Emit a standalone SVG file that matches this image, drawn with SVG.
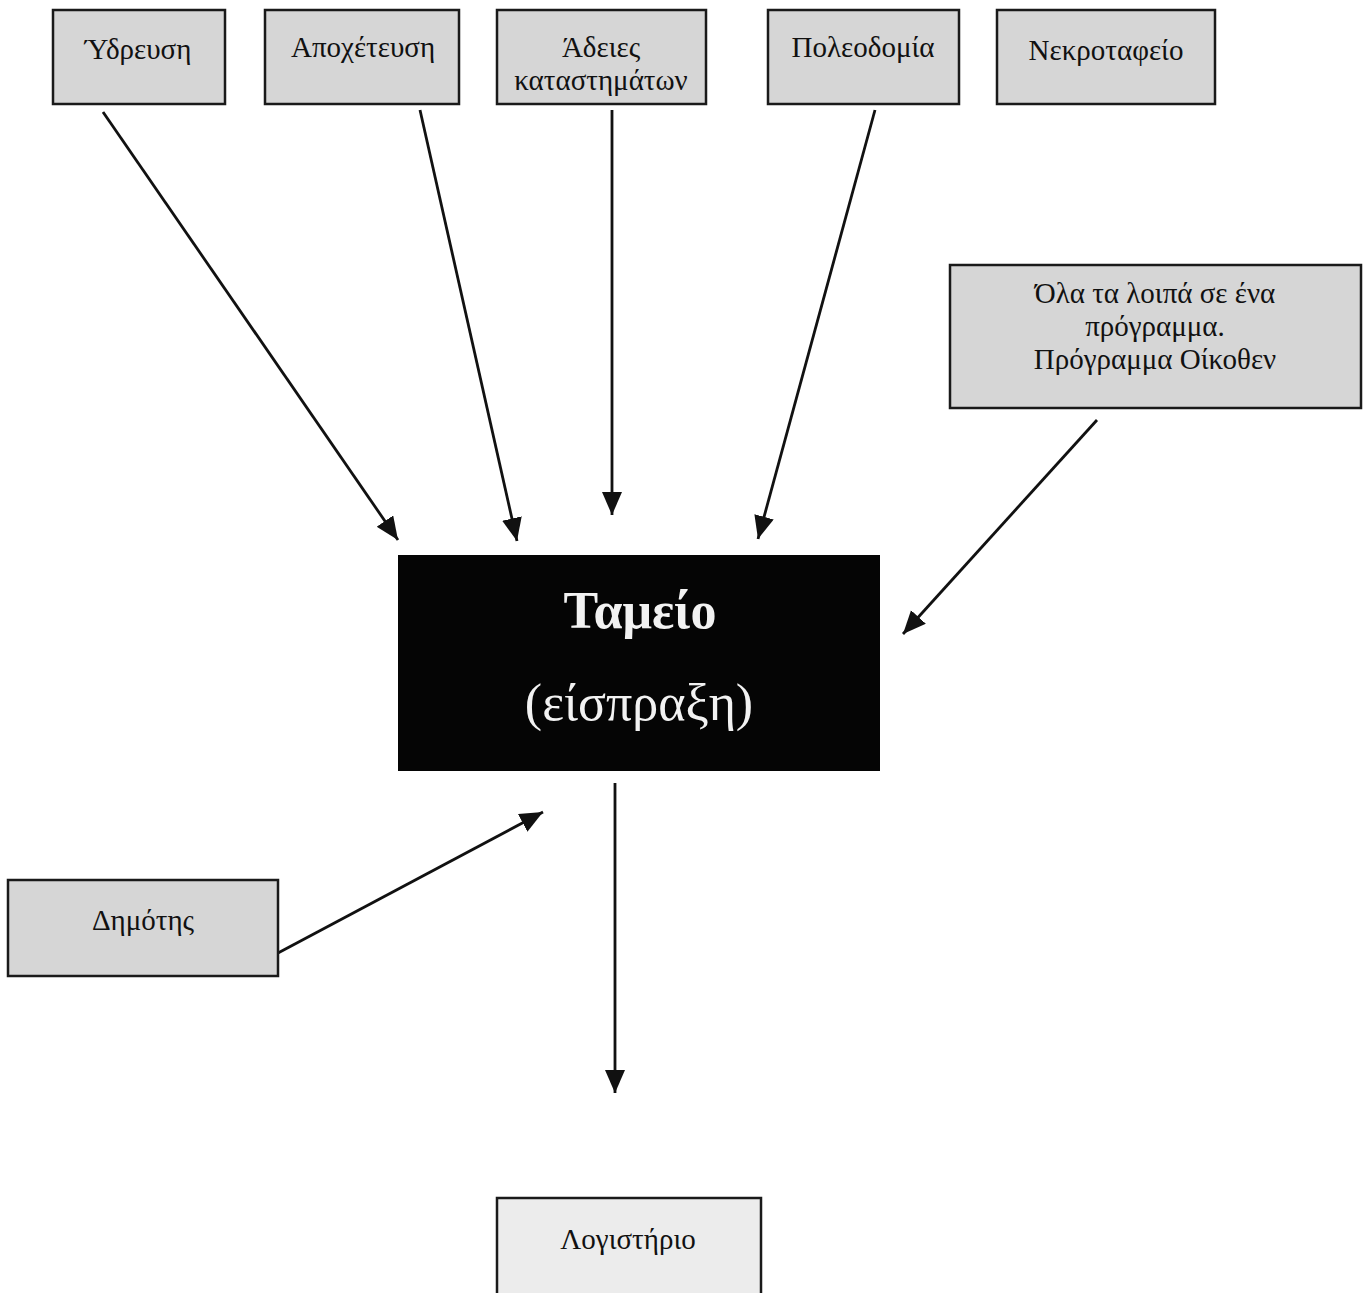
<svg xmlns="http://www.w3.org/2000/svg" width="1368" height="1293" viewBox="0 0 1368 1293">
<style>
.box{fill:#d6d6d6;stroke:#1a1a1a;stroke-width:2.5}
.lbl{font-family:"Liberation Serif","Times New Roman",serif;font-size:29px;fill:#111;text-anchor:middle}
.conn{stroke:#111;stroke-width:2.8;fill:none;marker-end:url(#ah)}
.big{font-family:"Liberation Serif","Times New Roman",serif;fill:#f2f2f2;text-anchor:middle}
</style>
<defs>
<marker id="ah" markerUnits="userSpaceOnUse" markerWidth="24" markerHeight="22" refX="23" refY="10" orient="auto">
<path d="M0,0 L23,10 L0,20 z" fill="#111"/>
</marker>
</defs>
<rect width="1368" height="1293" fill="#ffffff"/>
<g id="connectors">
<line class="conn" x1="103" y1="112" x2="398" y2="540"/>
<line class="conn" x1="420" y1="110" x2="517" y2="541"/>
<line class="conn" x1="612" y1="110" x2="612" y2="515"/>
<line class="conn" x1="875" y1="110" x2="758" y2="539"/>
<line class="conn" x1="1097" y1="420" x2="903" y2="634"/>
<line class="conn" x1="278" y1="953" x2="543" y2="812"/>
<line class="conn" x1="615" y1="783" x2="615" y2="1093"/>
</g>
<g id="ydreusi">
<rect class="box" x="53" y="10" width="172" height="94"/>
<text class="lbl" x="138" y="59">Ύδρευση</text>
</g>
<g id="apoxeteusi">
<rect class="box" x="265" y="10" width="194" height="94"/>
<text class="lbl" x="363" y="57">Αποχέτευση</text>
</g>
<g id="adeies">
<rect class="box" x="497" y="10" width="209" height="94"/>
<text class="lbl" x="601" y="57">Άδειες</text>
<text class="lbl" x="601" y="90">καταστημάτων</text>
</g>
<g id="poleodomia">
<rect class="box" x="768" y="10" width="191" height="94"/>
<text class="lbl" x="863" y="57">Πολεοδομία</text>
</g>
<g id="nekrotafeio">
<rect class="box" x="997" y="10" width="218" height="94"/>
<text class="lbl" x="1106" y="60">Νεκροταφείο</text>
</g>
<g id="loipa">
<rect class="box" x="950" y="265" width="411" height="143"/>
<text class="lbl" x="1155" y="303">Όλα τα λοιπά σε ένα</text>
<text class="lbl" x="1155" y="336">πρόγραμμα.</text>
<text class="lbl" x="1155" y="369">Πρόγραμμα Οίκοθεν</text>
</g>
<g id="tameio">
<rect x="398" y="555" width="482" height="216" fill="#050505"/>
<text class="big" x="640" y="628" font-size="52" font-weight="bold">Ταμείο</text>
<text class="big" x="639" y="720" font-size="52">(είσπραξη)</text>
</g>
<g id="dimotis">
<rect class="box" x="8" y="880" width="270" height="96"/>
<text class="lbl" x="143" y="930">Δημότης</text>
</g>
<g id="logistirio">
<rect x="497" y="1198" width="264" height="100" fill="#ececec" stroke="#1a1a1a" stroke-width="2.5"/>
<text class="lbl" x="628" y="1249">Λογιστήριο</text>
</g>
</svg>
